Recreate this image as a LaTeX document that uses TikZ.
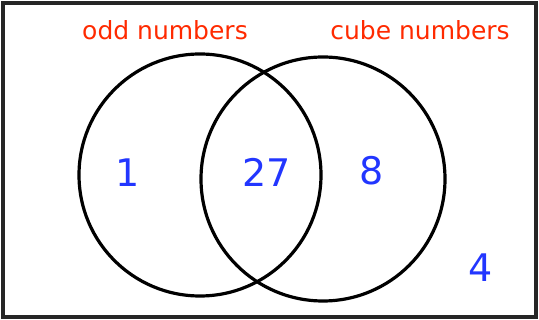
\documentclass[tikz,border=0pt]{standalone}
\usepackage{fontspec}
\setmainfont{DejaVu Sans}
\usetikzlibrary{positioning}
\definecolor{setred}{HTML}{FF2A00}
\definecolor{numblue}{HTML}{2236FF}

\begin{document}
\begin{tikzpicture}[x=1pt,y=-1pt,
    setlabel/.style={text=setred,inner sep=0pt,font=\fontsize{25}{28}\selectfont},
    element/.style={text=numblue,inner sep=0pt,font=\fontsize{38}{42}\selectfont},
    ring/.style={draw=black,line width=3.2pt}]
        \useasboundingbox (0,0) rectangle (539,320);
        % universal set
        \draw[line width=3.4pt,draw=black!85] (3,3) rectangle (536,317);
        % the two sets
        \coordinate (oddc) at (200,175);
        \coordinate (cubec) at (323,179);
        \draw[ring] (oddc) circle[radius=121];
        \draw[ring] (cubec) circle[radius=122];
        \node[setlabel] (oddlbl) at (165,30) {odd numbers};
        \node[setlabel] (cubelbl) at (420,30) {cube numbers};
        % elements
        \node[element] (one) at (128,173) {1};
        \node[element] (twentyseven) at (267,172) {27};
        \node[element] (eight) at (372,171) {8};
        \node[element] (four) at (481,268) {4};
      \end{tikzpicture}
\end{document}
